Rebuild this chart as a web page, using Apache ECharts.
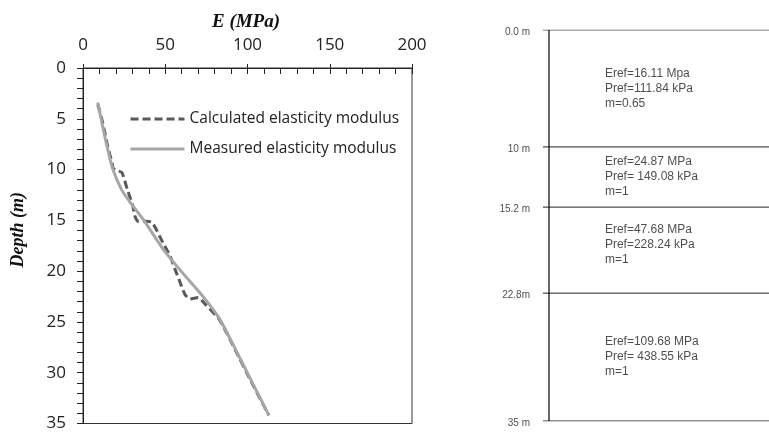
<!DOCTYPE html>
<html><head><meta charset="utf-8">
<script src="https://cdn.jsdelivr.net/npm/echarts@6/dist/echarts.min.js"></script>
<style>html,body{margin:0;padding:0;background:#fff}#c{width:769px;height:432px}</style>
</head><body><div id="c"></div>
<script>
// ---- data ----
var xTicks = [0, 50, 100, 150, 200];
var yTicks = [0, 5, 10, 15, 20, 25, 30, 35];
var seriesNames = ['Calculated elasticity modulus', 'Measured elasticity modulus'];
// [E (MPa), depth (m)]
var calculated = [[9,3.6],[12,5.4],[15,7.7],[17.6,9.3],[18.5,9.9],[21,10.1],[23.7,10.3],[27,12],[30,13.4],[31.6,14.6],[33.5,15.1],[38,15.1],[42,15.2],[48.6,17.2],[52.9,18.5],[55.9,19.8],[59,21.1],[62,22.3],[65,22.75],[70,22.6],[74,23.2],[83,24.8],[93,27.9],[103,31.1],[113,34.2]];
var measured = [[9,3.4],[11.5,5.4],[14.6,7.7],[18.2,10],[23.5,12],[28.6,13.2],[37,15],[48.6,17.8],[59.6,20],[74,22.7],[83,24.7],[93,27.8],[103,31],[113,34.2]];
// soil layers
var boundaryLabels = ['0.0 m', '10 m', '15.2 m', '22.8m', '35 m'];
var boundaryDepths = [0, 10, 15.2, 22.8, 35];
var layerTexts = [
  'Eref=16.11 Mpa\nPref=111.84 kPa\nm=0.65',
  'Eref=24.87 MPa\nPref= 149.08 kPa\nm=1',
  'Eref=47.68 MPa\nPref=228.24 kPa\nm=1',
  'Eref=109.68 MPa\nPref= 438.55 kPa\nm=1'
];

// ---- schematic (not to scale) placement of the layer diagram ----
var schematic = [0, 29.9, 45.3, 67.3, 100];
function schem(d){
  for (var i = 0; i < boundaryDepths.length - 1; i++) {
    if (d <= boundaryDepths[i+1]) {
      var t = (d - boundaryDepths[i]) / (boundaryDepths[i+1] - boundaryDepths[i]);
      return schematic[i] + t * (schematic[i+1] - schematic[i]);
    }
  }
  return 100;
}
var layerTextShift = [0, 0, -1.3, 0];

var chart = echarts.init(document.getElementById('c'));
var tickFont = {fontFamily: 'Open Sans', fontSize: 17, color: '#222'};
var series = [
  {name: seriesNames[0], type: 'line', xAxisIndex: 0, yAxisIndex: 0, data: calculated, symbol: 'none', smooth: 0.2,
   lineStyle: {color: '#595959', width: 3, type: [8, 4]}, itemStyle: {color: '#595959'}, z: 3},
  {name: seriesNames[1], type: 'line', xAxisIndex: 0, yAxisIndex: 0, data: measured, symbol: 'none', smooth: 0.3,
   lineStyle: {color: '#a6a6a6', width: 3}, itemStyle: {color: '#a6a6a6'}, z: 4}
];
// layer diagram
boundaryDepths.forEach(function(d, i){
  var y = schem(d);
  series.push({type: 'line', xAxisIndex: 2, yAxisIndex: 2, symbol: 'none', silent: true,
    data: [[0, y], [100, y]], lineStyle: {color: i === 0 ? '#555' : '#222', width: 1}});
});
series.push({type: 'line', xAxisIndex: 2, yAxisIndex: 2, symbol: 'none', silent: true,
  data: [[2.65, 0], [2.65, 100]], lineStyle: {color: '#000', width: 1.2}});
series.push({type: 'scatter', xAxisIndex: 2, yAxisIndex: 2, symbolSize: 0, silent: true,
  data: boundaryDepths.map(function(d, i){ return {value: [0, schem(d)], name: boundaryLabels[i]}; }),
  label: {show: true, position: 'left', distance: 13, offset: [0, 2], formatter: '{b}', fontFamily: 'Liberation Sans', fontSize: 10, color: '#222'}});
series.push({type: 'scatter', xAxisIndex: 2, yAxisIndex: 2, symbolSize: 0, silent: true,
  data: layerTexts.map(function(t, i){ return {value: [27.4, (schem(boundaryDepths[i]) + schem(boundaryDepths[i+1])) / 2 + layerTextShift[i]], name: t}; }),
  label: {show: true, position: 'right', distance: 0, formatter: '{b}', fontFamily: 'Liberation Sans', fontSize: 12, lineHeight: 15, color: '#222', align: 'left'}});

chart.setOption({
  animation: false,
  title: {text: 'E (MPa)', left: 241, top: 8, textAlign: 'center',
    textStyle: {fontFamily: 'Liberation Serif', fontStyle: 'italic', fontWeight: 'bold', fontSize: 19, color: '#111'}},
  legend: {orient: 'vertical', left: 124, top: 106, itemGap: 14, itemWidth: 54, itemHeight: 14,
    data: seriesNames, itemStyle: {color: 'rgba(0,0,0,0)', borderWidth: 0, opacity: 0},
    lineStyle: {width: 3},
    textStyle: {fontFamily: 'Open Sans', fontSize: 15.5, lineHeight: 14, color: '#222'}},
  grid: [
    {left: 83, top: 68, width: 329, height: 357, show: true, borderColor: '#333', borderWidth: 1},
    {left: 543, top: 30, width: 226, height: 391}
  ],
  xAxis: [
    {type: 'value', gridIndex: 0, position: 'top', min: 0, max: 200, interval: 50,
     axisLine: {show: true, lineStyle: {color: '#222'}}, axisTick: {show: true, length: 4, lineStyle: {color: '#222'}},
     axisLabel: Object.assign({margin: 14}, tickFont), splitLine: {show: false}},
    {type: 'value', gridIndex: 0, position: 'top', min: 0, max: 200, interval: 50,
     axisLine: {show: false}, axisTick: {show: true, inside: true, length: 6, lineStyle: {color: '#222'}},
     minorTick: {show: true, splitNumber: 5, length: 6, lineStyle: {color: '#222'}},
     axisLabel: {show: false}, splitLine: {show: false}},
    {type: 'value', gridIndex: 1, min: 0, max: 100, show: false}
  ],
  yAxis: [
    {type: 'value', gridIndex: 0, inverse: true, min: 0, max: 35, interval: 5,
     name: 'Depth (m)', nameLocation: 'middle', nameGap: 56, nameRotate: 90,
     nameTextStyle: {fontFamily: 'Liberation Serif', fontStyle: 'italic', fontWeight: 'bold', fontSize: 18, color: '#111', padding: [0, 0, 0, 32]},
     axisLine: {show: true, lineStyle: {color: '#222'}}, axisTick: {show: true, length: 6, lineStyle: {color: '#222'}},
     axisLabel: Object.assign({margin: 17}, tickFont), splitLine: {show: false}},
    {type: 'value', gridIndex: 0, inverse: true, min: 0, max: 35, interval: 5,
     axisLine: {show: false}, axisTick: {show: true, inside: true, length: 6, lineStyle: {color: '#222'}},
     minorTick: {show: true, splitNumber: 5, length: 6, lineStyle: {color: '#222'}},
     axisLabel: {show: false}, splitLine: {show: false}},
    {type: 'value', gridIndex: 1, inverse: true, min: 0, max: 100, show: false}
  ],
  series: series
});
</script></body></html>
